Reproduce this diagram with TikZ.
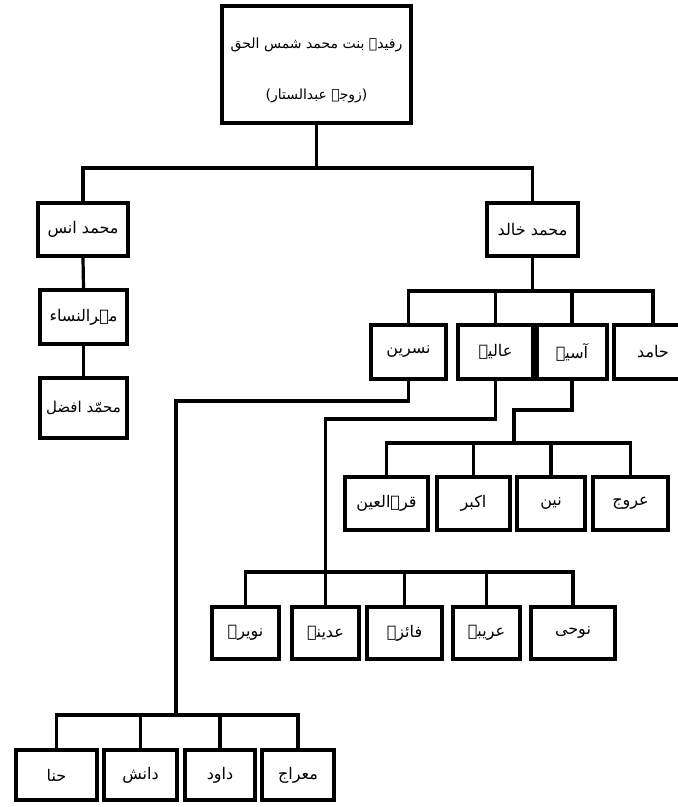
\documentclass[tikz,border=0pt]{standalone}
\usepackage{fontspec}
\newfontfamily\urdu[Script=Arabic]{DejaVu Sans}
\TeXXeTstate=1
\newcommand{\ur}[1]{\beginR #1\endR}
\tikzset{
  box/.style={draw, line width=3.3pt, minimum width=#1, minimum height=53pt, inner sep=0pt,
    font=\urdu\fontsize{16}{19}\selectfont},
  conn/.style={line width=3.2pt, line join=miter, line cap=rect}
}
\begin{document}
\begin{tikzpicture}[x=1pt,y=-1pt]
\useasboundingbox (0,0) rectangle (678,807);
\clip (0,0) rectangle (678,807);
% nodes
\node[box=189pt, minimum height=117pt, font=\urdu\fontsize{14}{17}\selectfont] (top) at (316.5,64.5)
  {\begin{tabular}{@{}c@{}}\rule{0pt}{25pt}\ur{رفیدہ بنت محمد شمس الحق}\\[34pt]\ur{(زوجہ عبدالستار)}\end{tabular}};
\node[box=90pt] (anas) at (83,229.5) {\ur{محمد انس}};
\node[box=87pt, minimum height=54pt] (mehr) at (83.5,317) {\ur{مہرالنساء}};
\node[box=87pt, minimum height=60pt, font=\urdu\fontsize{15}{18}\selectfont] (afzal) at (83.5,408) {\ur{محمّد افضل}};
\node[box=91pt] (khalid) at (532.5,229.5) {\ur{محمد خالد}};
\node[box=75pt, minimum height=54pt] (nasreen) at (408.5,352) {\ur{نسرین}};
\node[box=75pt, minimum height=54pt] (aaliya) at (495.5,352) {\ur{عالیہ}};
\node[box=70pt, minimum height=54pt] (aasiya) at (572,352) {\ur{آسیہ}};
\node[box=78pt, minimum height=54pt] (hamid) at (653,352) {\ur{حامد}};
\node[box=83pt] (qurrat) at (386.5,503.5) {\ur{قرۃالعین}};
\node[box=73pt] (akbar) at (473.5,503.5) {\ur{اکبر}};
\node[box=68pt] (nain) at (551,503.5) {\ur{نین}};
\node[box=75pt] (urooj) at (630.5,503.5) {\ur{عروج}};
\node[box=67pt, minimum height=52pt] (nawera) at (245.5,633) {\ur{نویرہ}};
\node[box=67pt, minimum height=52pt] (adeena) at (325.5,633) {\ur{عدینہ}};
\node[box=75pt, minimum height=52pt] (faiza) at (404.5,633) {\ur{فائزہ}};
\node[box=67pt, minimum height=52pt] (areeba) at (486.5,633) {\ur{عریبہ}};
\node[box=84pt, minimum height=52pt] (noohi) at (573,633) {\ur{نوحی}};
\node[box=81pt, minimum height=50pt] (hina) at (56.5,775) {\ur{حنا}};
\node[box=73pt, minimum height=50pt] (danish) at (140.5,775) {\ur{دانش}};
\node[box=70pt, minimum height=50pt] (dawood) at (220,775) {\ur{داود}};
\node[box=72pt, minimum height=50pt] (meraj) at (298,775) {\ur{معراج}};
% top level
\coordinate (b0) at (316.5,168);
\draw[conn] (top.south) -- (b0);
\draw[conn] (anas.north) |- (b0) -| (khalid.north);
\draw[conn] (anas.south) -- (mehr.north);
\draw[conn] (mehr.south) -- (afzal.north);
% khalid's children
\coordinate (b1) at (532.5,291);
\draw[conn] (khalid.south) -- (b1);
\draw[conn] (nasreen.north) |- (b1) -| (hamid.north);
\draw[conn] (aaliya.north) -- (aaliya.north |- b1);
\draw[conn] (aasiya.north) -- (aasiya.north |- b1);
% nasreen
\coordinate (n1) at (176,401);
\coordinate (n2) at (176,715);
\draw[conn] (nasreen.south) |- (n1) -- (n2);
\draw[conn] (hina.north) |- (n2) -| (meraj.north);
\draw[conn] (danish.north) -- (danish.north |- n2);
\draw[conn] (dawood.north) -- (dawood.north |- n2);
% aaliya
\coordinate (a1) at (325.5,419);
\coordinate (a2) at (325.5,572);
\draw[conn] (aaliya.south) |- (a1) -- (a2);
\draw[conn] (nawera.north) |- (a2) -| (noohi.north);
\draw[conn] (adeena.north) -- (adeena.north |- a2);
\draw[conn] (faiza.north) -- (faiza.north |- a2);
\draw[conn] (areeba.north) -- (areeba.north |- a2);
% aasiya
\coordinate (s1) at (514,410);
\coordinate (s2) at (514,443);
\draw[conn] (aasiya.south) |- (s1) -- (s2);
\draw[conn] (qurrat.north) |- (s2) -| (urooj.north);
\draw[conn] (akbar.north) -- (akbar.north |- s2);
\draw[conn] (nain.north) -- (nain.north |- s2);
\end{tikzpicture}
\end{document}
